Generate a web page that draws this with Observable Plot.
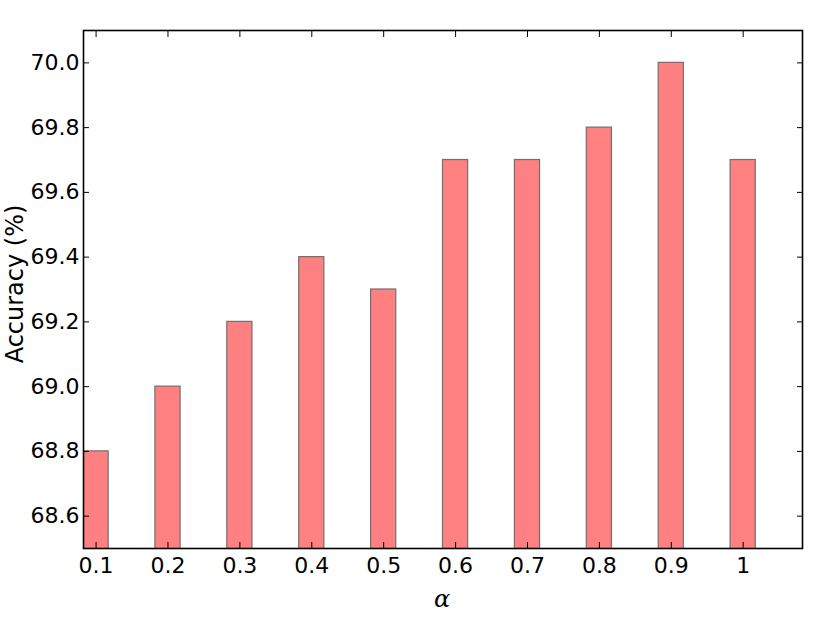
<!DOCTYPE html>
<html>
<head>
<meta charset="utf-8">
<script src="https://cdn.jsdelivr.net/npm/d3@7"></script>
<script src="https://cdn.jsdelivr.net/npm/@observablehq/plot@0.6"></script>
<style>
  html, body { margin: 0; padding: 0; background: #fff; }
  #chart { width: 830px; height: 623px; }
  svg { font-family: "DejaVu Sans", sans-serif; }
</style>
</head>
<body>
<div id="chart"></div>
<script>
// Data
const alphaLabels = ["0.1", "0.2", "0.3", "0.4", "0.5", "0.6", "0.7", "0.8", "0.9", "1"];
const accuracy = [68.8, 69.0, 69.2, 69.4, 69.3, 69.7, 69.7, 69.8, 70.0, 69.7];
const yTicks = [68.6, 68.8, 69.0, 69.2, 69.4, 69.6, 69.8, 70.0];
const barWidth = 0.35;

const data = alphaLabels.map((a, i) => ({label: a, idx: i, value: accuracy[i]}));
const xTickPos = alphaLabels.map((a, i) => i + barWidth / 2);

const tickFont = 22;

const chart = Plot.plot({
  width: 830,
  height: 623,
  marginLeft: 83,
  marginRight: 28,
  marginTop: 30,
  marginBottom: 75,
  style: {fontFamily: "'DejaVu Sans', sans-serif", fontSize: tickFont + "px", background: "white", color: "black"},
  x: {domain: [0, 10]},
  y: {domain: [68.5, 70.1]},
  marks: [
    Plot.rectY(data, {
      x1: d => d.idx,
      x2: d => d.idx + barWidth,
      y1: 0,
      y2: "value",
      fill: "#ff8080",
      stroke: "#707070",
      strokeWidth: 1.2,
      clip: true,
      inset: 0
    }),
    Plot.axisX({
      anchor: "bottom",
      ticks: xTickPos,
      tickSize: -6,
      tickPadding: 15,
      tickFormat: (d) => alphaLabels[Math.round(d - barWidth / 2)],
      label: null
    }),
    Plot.axisX({
      anchor: "top",
      ticks: xTickPos,
      tickSize: -6,
      tickFormat: () => "",
      label: null
    }),
    Plot.axisY({
      anchor: "left",
      ticks: yTicks,
      tickSize: -6,
      tickPadding: 10,
      tickFormat: d3.format(".1f"),
      label: null
    }),
    Plot.axisY({
      anchor: "right",
      ticks: yTicks,
      tickSize: -6,
      tickFormat: () => "",
      label: null
    }),
    Plot.frame({stroke: "black", strokeWidth: 1.6})
  ]
});

const svg = d3.select(chart);
// enforce tick label font size
svg.selectAll('g[aria-label$="tick label"]')
  .attr("font-size", tickFont)
  .style("font-family", "'DejaVu Sans', sans-serif");
svg.selectAll('g[aria-label$="tick label"] text')
  .attr("font-size", null)
  .style("font-size", tickFont + "px");

// Axis titles as real text
svg.append("text")
  .attr("x", 442)
  .attr("y", 607)
  .attr("text-anchor", "middle")
  .style("font-family", "'DejaVu Serif', serif")
  .style("font-style", "italic")
  .style("font-size", "24px")
  .text("α");
svg.append("text")
  .attr("transform", "translate(23,284) rotate(-90)")
  .attr("text-anchor", "middle")
  .style("font-family", "'DejaVu Sans', sans-serif")
  .style("font-size", "24px")
  .text("Accuracy (%)");

document.getElementById("chart").appendChild(chart);
</script>
</body>
</html>
